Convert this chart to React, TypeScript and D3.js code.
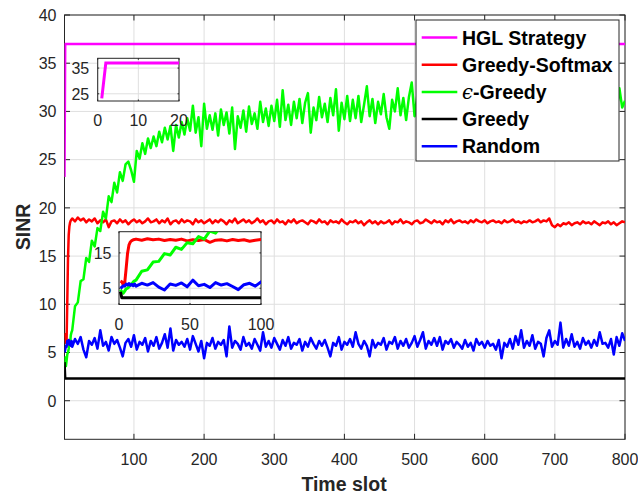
import { useEffect, useRef } from "react";
import * as d3 from "d3";

// time slots: every slot for the first 11, then every 4th slot
const slots = [...d3.range(1, 12), ...d3.range(12, 801, 4)];

const hglSlots = [1, 2, 800];
const hglValues = [23.2, 37.0, 37.0];

const greedySlots = [1, 2, 800];
const greedyValues = [4.0, 2.3, 2.3];

const softmaxValues = [
  7.0, 6.8, 6.0, 6.4, 10.5, 14.8, 17.2, 18.1, 18.5, 18.7, 18.8,
  18.9, 18.6, 19.0, 18.7, 18.9, 18.5, 18.8, 18.6, 18.9, 18.4,
  18.7, 18.5, 18.8, 18.0, 18.6, 18.7, 18.4, 18.8, 18.5, 18.7,
  18.3, 18.6, 18.8, 18.5, 18.7, 18.4, 18.6, 18.9, 18.5, 18.6,
  18.8, 18.4, 18.7, 18.5, 18.9, 18.3, 18.6, 18.7, 18.4, 18.8,
  18.5, 18.7, 18.6, 18.3, 18.8, 18.5, 18.7, 18.4, 18.6, 18.8,
  18.4, 18.7, 18.5, 18.8, 18.6, 18.3, 18.7, 18.5, 18.9, 18.4,
  18.6, 18.8, 18.5, 18.7, 18.4, 18.6, 18.9, 18.5, 18.7, 18.3,
  18.6, 18.7, 18.4, 18.8, 18.5, 18.6, 18.3, 18.7, 18.5, 18.8,
  18.4, 18.6, 18.7, 18.5, 18.3, 18.7, 18.6, 18.4, 18.8, 18.5,
  18.6, 18.3, 18.7, 18.5, 18.6, 18.4, 18.8, 18.5, 18.3, 18.6,
  18.5, 18.7, 18.4, 18.6, 18.2, 18.5, 18.7, 18.4, 18.6, 18.3,
  18.6, 18.4, 18.5, 18.7, 18.3, 18.6, 18.5, 18.8, 18.4, 18.6,
  18.5, 18.3, 18.6, 18.7, 18.4, 18.5, 18.8, 18.6, 18.4, 18.7,
  18.5, 18.6, 18.3, 18.7, 18.5, 18.8, 18.4, 18.6, 18.7, 18.5,
  18.6, 18.4, 18.7, 18.5, 18.8, 18.6, 18.5, 18.7, 18.4, 18.6,
  18.7, 18.5, 18.6, 18.4, 18.7, 18.5, 18.6, 18.8, 18.5, 18.6,
  18.4, 18.6, 18.5, 18.7, 18.5, 18.6, 18.8, 18.5, 18.7, 18.6,
  18.9, 18.2, 18.0, 18.3, 18.1, 18.4, 18.3, 18.5, 18.2, 18.4,
  18.5, 18.3, 18.6, 18.4, 18.5, 18.3, 18.6, 18.4, 18.2, 18.5,
  18.4, 18.6, 18.3, 18.5, 18.2, 18.4, 18.6, 18.5,
];

const epsilonValues = [
  4.6, 4.0, 3.6, 4.2, 4.8, 5.0, 5.4, 6.2, 6.0, 6.8, 7.1,
  7.3, 9.8, 10.2, 12.4, 12.6, 14.8, 14.4, 16.6, 16.0, 17.9,
  17.6, 19.6, 18.9, 21.2, 20.6, 22.6, 21.6, 23.7, 22.8, 24.5,
  24.8, 23.9, 22.7, 25.9, 25.1, 26.7, 25.6, 27.2, 26.2, 27.4,
  26.4, 27.9, 26.8, 28.3, 27.1, 28.5, 25.9, 28.6, 27.3, 28.9,
  27.6, 29.3, 28.0, 30.6, 27.8, 29.4, 26.4, 30.8, 28.2, 29.6,
  28.1, 29.8, 27.5, 30.2, 28.6, 29.9, 27.7, 30.4, 26.1, 29.5,
  28.3, 30.1, 27.9, 30.5, 28.7, 29.8, 28.2, 31.0, 28.9, 30.3,
  28.5, 30.6, 29.0, 31.2, 28.4, 32.2, 29.1, 30.7, 28.6, 31.0,
  29.3, 31.3, 28.8, 30.9, 31.9, 27.8, 30.4, 29.1, 31.5, 29.4,
  30.8, 28.9, 31.4, 29.6, 32.3, 28.0, 30.9, 29.2, 31.6, 29.0,
  31.2, 29.3, 31.6, 28.9, 30.7, 32.6, 29.5, 31.3, 28.8, 31.0,
  29.7, 31.8, 29.4, 28.2, 31.2, 30.0, 32.4, 29.6, 31.4, 29.1,
  31.5, 33.0, 29.5, 31.7, 28.9, 31.2, 30.1, 32.0, 29.6, 31.3,
  29.8, 31.9, 30.2, 28.7, 31.6, 30.4, 32.3, 29.4, 31.1, 30.0,
  31.8, 29.2, 31.4, 30.6, 32.4, 29.7, 31.0, 30.3, 32.1, 29.5,
  31.3, 30.1, 32.0, 29.4, 31.7, 30.8, 28.9, 31.9, 30.5, 31.2,
  29.9, 32.2, 30.7, 31.4, 29.3, 31.8, 30.2, 32.5, 30.0, 31.1,
  31.6, 29.8, 32.0, 30.6, 31.3, 29.6, 32.3, 30.9, 31.5, 30.1,
  31.9, 30.4, 29.5, 31.7, 30.8, 32.2, 30.0, 31.4, 29.8, 31.6,
  30.6, 32.0, 30.3, 31.5, 29.9, 32.4, 30.4, 31.1,
];

const randomValues = [
  5.0, 5.3, 5.7, 5.6, 6.2, 5.9, 6.3, 5.8, 6.1, 5.7, 6.2,
  5.6, 6.4, 5.9, 6.6, 5.3, 4.5, 6.2, 5.8, 6.5, 5.4,
  7.3, 5.7, 6.1, 5.2, 6.6, 5.9, 6.3, 5.5, 4.6, 6.0,
  6.4, 5.6, 6.8, 5.3, 6.1, 5.8, 6.5, 5.1, 6.2, 5.7,
  6.6, 5.4, 6.0, 6.9, 5.5, 7.5, 5.2, 6.3, 5.8, 6.1,
  5.6, 6.4, 5.3, 6.7, 5.9, 5.1, 6.2, 4.4, 6.0, 5.7,
  6.5, 5.4, 6.1, 5.8, 6.3, 4.6, 7.7, 5.5, 6.2, 5.9,
  5.3, 6.6, 5.7, 6.0, 5.4, 6.4, 5.8, 5.2, 7.1, 5.6,
  6.2, 5.5, 6.5, 5.9, 5.3, 6.3, 5.7, 6.6, 5.4, 6.0,
  5.8, 6.4, 5.2, 6.1, 5.6, 6.5, 5.9, 5.4, 6.2, 5.7,
  6.3, 5.5, 4.6, 6.0, 5.7, 6.6, 5.3, 6.1, 5.8, 6.4,
  5.6, 7.1, 5.9, 5.4, 6.2, 5.7, 4.6, 6.3, 5.5, 6.0,
  5.8, 6.5, 5.3, 6.1, 5.9, 6.6, 5.4, 6.2, 5.7, 6.4,
  5.5, 6.0, 6.7, 5.6, 6.3, 7.1, 5.4, 6.2, 5.8, 6.5,
  5.7, 6.6, 5.3, 6.2, 5.9, 6.4, 5.5, 6.1, 5.8, 5.4,
  6.3, 5.6, 6.0, 5.2, 6.4, 5.8, 6.1, 5.5, 6.2, 5.7,
  5.9, 5.3, 6.3, 4.4, 6.0, 5.6, 6.4, 5.4, 6.7, 5.8,
  7.3, 5.5, 6.2, 5.7, 6.8, 5.4, 6.1, 5.9, 4.6, 6.5,
  7.3, 5.6, 6.2, 5.8, 8.1, 5.5, 6.4, 5.7, 6.9, 5.6,
  6.1, 5.4, 6.5, 5.8, 6.2, 5.5, 6.3, 5.7, 7.1, 5.9,
  6.0, 5.5, 6.4, 4.8, 6.6, 5.7, 7.0, 6.2,
];

const xTicks = [100, 200, 300, 400, 500, 600, 700, 800];
const yTicks = [0, 5, 10, 15, 20, 25, 30, 35, 40];
const inset1XTicks = [0, 10, 20];
const inset1YTicks = [25, 35];
const inset2XTicks = [0, 50, 100];
const inset2YTicks = [5, 15];

const seriesNames = ["HGL Strategy", "Greedy-Softmax", "\u03f5-Greedy", "Greedy", "Random"];
const seriesColors = ["#ff00ff", "#ff0000", "#00ff00", "#000000", "#0000ff"];

const FONT = "'Liberation Sans', Arial, Helvetica, sans-serif";
const AXIS = "#262626";
const GRID = "#dfdfdf";

type Pt = [number, number];

function zip(xs: number[], ys: number[]): Pt[] {
  return xs.map((t, i) => [t, ys[i]] as Pt);
}

function frame(g: any, x: any, y: any, xt: number[], yt: number[], tick: number) {
  const [x0, x1] = x.range();
  const [y0, y1] = y.range();
  g.append("rect").attr("x", x0).attr("y", y1).attr("width", x1 - x0).attr("height", y0 - y1).attr("fill", "#fff");
  g.selectAll(null).data(xt).join("line")
    .attr("x1", (d: number) => x(d)).attr("x2", (d: number) => x(d))
    .attr("y1", y0).attr("y2", y1).attr("stroke", GRID).attr("stroke-width", 1);
  g.selectAll(null).data(yt).join("line")
    .attr("y1", (d: number) => y(d)).attr("y2", (d: number) => y(d))
    .attr("x1", x0).attr("x2", x1).attr("stroke", GRID).attr("stroke-width", 1);
  g.append("rect").attr("x", x0).attr("y", y1).attr("width", x1 - x0).attr("height", y0 - y1)
    .attr("fill", "none").attr("stroke", AXIS).attr("stroke-width", 1);
  const ticks: any[] = [];
  xt.forEach((d) => {
    ticks.push([x(d), y0, x(d), y0 - tick]);
    ticks.push([x(d), y1, x(d), y1 + tick]);
  });
  yt.forEach((d) => {
    ticks.push([x0, y(d), x0 + tick, y(d)]);
    ticks.push([x1, y(d), x1 - tick, y(d)]);
  });
  g.selectAll(null).data(ticks).join("line")
    .attr("x1", (d: number[]) => d[0]).attr("y1", (d: number[]) => d[1])
    .attr("x2", (d: number[]) => d[2]).attr("y2", (d: number[]) => d[3])
    .attr("stroke", AXIS).attr("stroke-width", 1);
}

function tickLabels(g: any, x: any, y: any, xt: number[], yt: number[], xOff: number, yGap: number) {
  const [x0] = x.range();
  const [y0] = y.range();
  g.selectAll(null).data(xt).join("text")
    .attr("x", (d: number) => x(d)).attr("y", y0 + xOff)
    .attr("text-anchor", "middle").attr("fill", AXIS)
    .style("font-family", FONT).style("font-size", "16px")
    .text((d: number) => d);
  g.selectAll(null).data(yt).join("text")
    .attr("x", x0 - yGap).attr("y", (d: number) => y(d) + 5.8)
    .attr("text-anchor", "end").attr("fill", AXIS)
    .style("font-family", FONT).style("font-size", "16px")
    .text((d: number) => d);
}

function clipRect(defs: any, id: string, x: any, y: any) {
  const [x0, x1] = x.range();
  const [y0, y1] = y.range();
  defs.append("clipPath").attr("id", id).append("rect")
    .attr("x", x0).attr("y", y1).attr("width", x1 - x0).attr("height", y0 - y1);
}

export default function App() {
  const ref = useRef<SVGSVGElement>(null);

  useEffect(() => {
    document.body.style.margin = "0";
    const svg = d3.select(ref.current);
    svg.selectAll("*").remove();
    const defs = svg.append("defs");

    const hgl = zip(hglSlots, hglValues);
    const softmax = zip(slots, softmaxValues);
    const epsilon = zip(slots, epsilonValues);
    const greedy = zip(greedySlots, greedyValues);
    const random = zip(slots, randomValues);
    const allSeries = [hgl, softmax, epsilon, greedy, random];

    // main axes
    const x = d3.scaleLinear().domain([1, 800]).range([64.5, 625]);
    const y = d3.scaleLinear().domain([-4, 40]).range([439.3, 15]);
    const main = svg.append("g");
    frame(main, x, y, xTicks, yTicks, 5.5);
    clipRect(defs, "clip-main", x, y);
    const line = d3.line<Pt>().x((d) => x(d[0])).y((d) => y(d[1]));
    const plot = main.append("g").attr("clip-path", "url(#clip-main)");
    allSeries.forEach((s, i) => {
      plot.append("path").attr("d", line(s)).attr("fill", "none")
        .attr("stroke", seriesColors[i]).attr("stroke-width", 2.5).attr("stroke-linejoin", "round");
    });
    tickLabels(main, x, y, xTicks, yTicks, 25.5, 8);

    main.append("text").attr("x", 344).attr("y", 491).attr("text-anchor", "middle")
      .attr("fill", AXIS).style("font-family", FONT).style("font-size", "19.5px").style("font-weight", "bold")
      .text("Time slot");
    main.append("text").attr("transform", "translate(30,227) rotate(-90)").attr("text-anchor", "middle")
      .attr("fill", AXIS).style("font-family", FONT).style("font-size", "19.5px").style("font-weight", "bold")
      .text("SINR");

    // inset 1: HGL start
    const x1 = d3.scaleLinear().domain([0, 20]).range([97.7, 179]);
    const y1 = d3.scaleLinear().domain([22.2, 38.8]).range([101, 58.3]);
    const in1 = svg.append("g");
    frame(in1, x1, y1, inset1XTicks, inset1YTicks, 1.5);
    clipRect(defs, "clip-in1", x1, y1);
    const line1 = d3.line<Pt>().x((d) => x1(d[0])).y((d) => y1(d[1]));
    in1.append("g").attr("clip-path", "url(#clip-in1)").append("path")
      .attr("d", line1(hgl)).attr("fill", "none").attr("stroke", seriesColors[0]).attr("stroke-width", 3);
    tickLabels(in1, x1, y1, inset1XTicks, inset1YTicks, 24.5, 8.5);

    // inset 2: first 100 slots
    const x2 = d3.scaleLinear().domain([0, 100]).range([119, 261]);
    const y2 = d3.scaleLinear().domain([0.4, 21]).range([304.5, 231.7]);
    const in2 = svg.append("g");
    frame(in2, x2, y2, inset2XTicks, inset2YTicks, 1.5);
    clipRect(defs, "clip-in2", x2, y2);
    const line2 = d3.line<Pt>().x((d) => x2(d[0])).y((d) => y2(d[1]));
    const p2 = in2.append("g").attr("clip-path", "url(#clip-in2)");
    [softmax, epsilon, random, greedy].forEach((s, i) => {
      const idx = [1, 2, 4, 3][i];
      p2.append("path").attr("d", line2(s.filter((d, j) => d[0] <= 104 || (j > 0 && s[j - 1][0] < 100))))
        .attr("fill", "none").attr("stroke", seriesColors[idx]).attr("stroke-width", 3)
        .attr("stroke-linejoin", "round");
    });
    tickLabels(in2, x2, y2, inset2XTicks, inset2YTicks, 25.5, 7.5);

    // legend
    const lg = svg.append("g");
    lg.append("rect").attr("x", 416).attr("y", 20).attr("width", 203).attr("height", 141)
      .attr("fill", "#fff").attr("stroke", AXIS).attr("stroke-width", 1);
    seriesNames.forEach((name, i) => {
      const cy = 37.5 + i * 27.2;
      lg.append("line").attr("x1", 421.7).attr("x2", 457.3).attr("y1", cy).attr("y2", cy)
        .attr("stroke", seriesColors[i]).attr("stroke-width", 2.5);
      const t = lg.append("text").attr("x", 462).attr("y", cy + 7).attr("fill", "#000")
        .style("font-family", FONT).style("font-size", "19.5px").style("font-weight", "bold");
      if (name.startsWith("\u03f5")) {
        t.append("tspan").style("font-family", "'DejaVu Serif', serif").style("font-style", "italic")
          .style("font-weight", "normal").text("\u03f5");
        t.append("tspan").text(name.slice(1));
      } else {
        t.text(name);
      }
    });
  }, []);

  return <svg ref={ref} width={638} height={496} style={{ display: "block" }} />;
}
